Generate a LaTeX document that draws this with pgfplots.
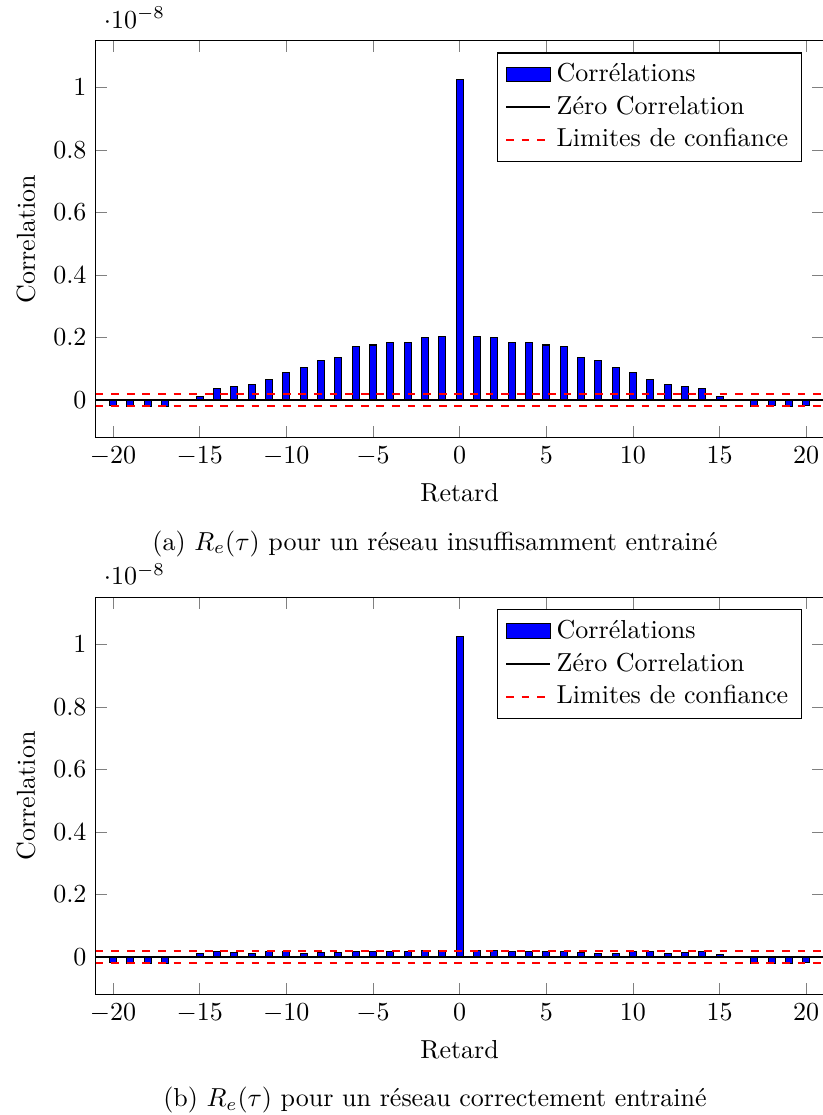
\documentclass[border=0pt]{standalone}
\usepackage{pgfplots}
\pgfplotsset{compat=1.18}

\pgfplotsset{
  corrstyle/.style={
    scale only axis,
    width=280pt,
    height=152.7pt,
    xmin=-21, xmax=21,
    ymin=-0.12e-8, ymax=1.15e-8,
    xtick={-20,-15,...,20},
    ytick={0,0.2e-8,0.4e-8,0.6e-8,0.8e-8,1e-8},
    xlabel={Retard},
    ylabel={Correlation},
    legend pos=north east,
    legend cell align=left,
  },
}

\begin{document}
\begin{tikzpicture}
\path[use as bounding box] (-36.8pt,-260.6pt) rectangle (279.6pt,168.3pt);

% (a) insufficiently trained network
\begin{axis}[corrstyle, at={(0pt,0pt)}]
\addplot[ybar, bar width=0.4, fill=blue, draw=black, area legend] coordinates {
  (-20,-0.016e-8) (-19,-0.020e-8) (-18,-0.020e-8) (-17,-0.022e-8)
  (-16,0.002e-8) (-15,0.010e-8) (-14,0.037e-8) (-13,0.044e-8)
  (-12,0.051e-8) (-11,0.065e-8) (-10,0.087e-8) (-9,0.105e-8)
  (-8,0.126e-8) (-7,0.137e-8) (-6,0.170e-8) (-5,0.176e-8)
  (-4,0.183e-8) (-3,0.183e-8) (-2,0.200e-8) (-1,0.204e-8)
  (0,1.025e-8)
  (1,0.203e-8) (2,0.200e-8) (3,0.183e-8) (4,0.183e-8)
  (5,0.176e-8) (6,0.170e-8) (7,0.137e-8) (8,0.127e-8)
  (9,0.105e-8) (10,0.087e-8) (11,0.065e-8) (12,0.051e-8)
  (13,0.043e-8) (14,0.037e-8) (15,0.010e-8) (16,0.002e-8)
  (17,-0.022e-8) (18,-0.019e-8) (19,-0.020e-8) (20,-0.017e-8)
};
\addplot[black, thick] coordinates {(-21,0) (21,0)};
\addplot[red, thick, dashed] coordinates {(-21,0.02e-8) (21,0.02e-8)};
\addplot[red, thick, dashed, forget plot] coordinates {(-21,-0.02e-8) (21,-0.02e-8)};
\legend{Corrélations, Zéro Correlation, Limites de confiance}
\end{axis}
\node at (130.5pt,-40.8pt) {(a) $R_e(\tau)$ pour un réseau insuffisamment entrainé};

% (b) correctly trained network
\begin{axis}[corrstyle, at={(0pt,-214.2pt)}]
\addplot[ybar, bar width=0.4, fill=blue, draw=black, area legend] coordinates {
  (-20,-0.018e-8) (-19,-0.020e-8) (-18,-0.020e-8) (-17,-0.020e-8)
  (-16,0.002e-8) (-15,0.010e-8) (-14,0.017e-8) (-13,0.014e-8)
  (-12,0.012e-8) (-11,0.016e-8) (-10,0.017e-8) (-9,0.010e-8)
  (-8,0.013e-8) (-7,0.013e-8) (-6,0.018e-8) (-5,0.018e-8)
  (-4,0.018e-8) (-3,0.018e-8) (-2,0.019e-8) (-1,0.020e-8)
  (0,1.025e-8)
  (1,0.020e-8) (2,0.019e-8) (3,0.018e-8) (4,0.018e-8)
  (5,0.018e-8) (6,0.017e-8) (7,0.014e-8) (8,0.012e-8)
  (9,0.010e-8) (10,0.018e-8) (11,0.016e-8) (12,0.012e-8)
  (13,0.013e-8) (14,0.017e-8) (15,0.009e-8) (16,0.002e-8)
  (17,-0.020e-8) (18,-0.020e-8) (19,-0.020e-8) (20,-0.018e-8)
};
\addplot[black, thick] coordinates {(-21,0) (21,0)};
\addplot[red, thick, dashed] coordinates {(-21,0.02e-8) (21,0.02e-8)};
\addplot[red, thick, dashed, forget plot] coordinates {(-21,-0.02e-8) (21,-0.02e-8)};
\legend{Corrélations, Zéro Correlation, Limites de confiance}
\end{axis}
\node at (130.5pt,-255pt) {(b) $R_e(\tau)$ pour un réseau correctement entrainé};
\end{tikzpicture}
\end{document}
